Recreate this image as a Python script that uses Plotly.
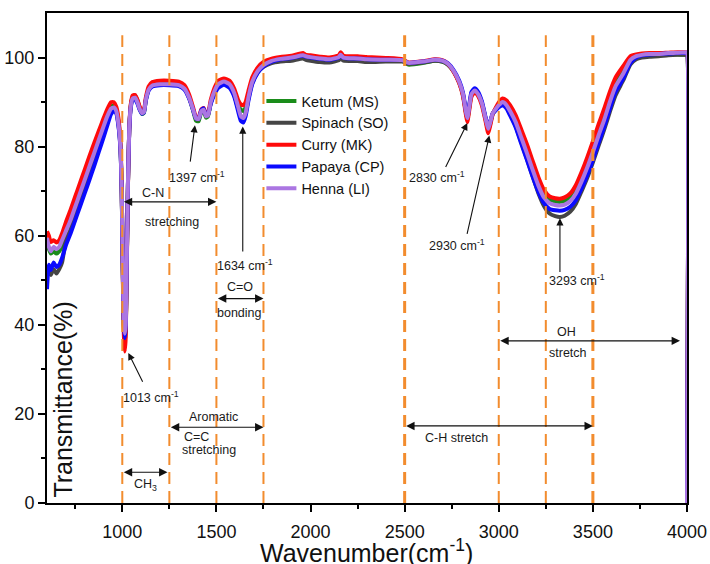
import plotly.graph_objects as go

# ---------------- data ----------------
wavenumber = [600, 610, 620, 635, 650, 665, 680, 700, 725, 750, 775, 800, 825, 850, 875, 900, 920, 940, 955, 968,
              980, 990, 997, 1003, 1008, 1013, 1018, 1024, 1030, 1037, 1045, 1055, 1068, 1080, 1092, 1105, 1115, 1125,
              1140, 1160, 1200, 1250, 1300, 1330, 1355, 1375, 1392, 1405, 1420, 1432, 1445, 1455, 1470, 1490, 1510,
              1540, 1570, 1595, 1615, 1630, 1643, 1655, 1670, 1690, 1720, 1750, 1790, 1840, 1900, 1960, 1975, 2000,
              2050, 2100, 2150, 2160, 2175, 2250, 2300, 2400, 2490, 2520, 2600, 2660, 2700, 2730, 2760, 2790, 2810,
              2825, 2833, 2842, 2855, 2872, 2890, 2910, 2930, 2944, 2955, 2968, 2985, 3000, 3020, 3040, 3060, 3090,
              3120, 3150, 3180, 3210, 3240, 3270, 3300, 3325, 3350, 3380, 3410, 3440, 3470, 3500, 3530, 3560, 3590,
              3620, 3660, 3700, 3730, 3760, 3800, 3850, 3900, 3950, 3998, 4000, 4000]

ketum = [58.5, 57.0, 56.0, 56.5, 56.0, 56.5, 58.0, 61.8, 64.3, 67.3, 70.3, 73.3, 76.3, 79.3, 82.2, 85.1, 87.3, 89.0, 89.3, 88.4,
         85.5, 80.3, 70.0, 51.0, 39.5, 36.0, 38.5, 54.0, 71.5, 84.0, 89.0, 90.9, 91.1, 90.1, 88.5, 87.3, 87.6, 90.4,
         92.8, 93.8, 94.1, 94.1, 93.9, 93.0, 91.0, 88.3, 85.8, 85.7, 87.8, 88.1, 86.5, 86.8, 89.9, 92.4, 93.9,
         94.5, 93.9, 92.0, 89.3, 88.3, 88.0, 88.8, 91.5, 94.7, 97.1, 98.4, 99.2, 99.6, 99.9, 100.4, 100.2, 100.0,
         99.7, 99.5, 100.0, 100.5, 99.9, 99.7, 99.5, 99.4, 99.2, 98.4, 98.8, 99.3, 99.1, 98.4, 96.9, 94.4, 91.6,
         87.8, 86.1, 88.3, 91.6, 92.5, 91.7, 89.7, 86.1, 83.6, 85.2, 87.4, 88.6, 89.5, 90.3, 89.8, 88.5, 86.1,
         82.7, 79.3, 75.6, 72.1, 69.4, 68.1, 67.7, 67.6, 67.8, 68.6, 70.3, 73.0, 76.1, 79.6, 83.3, 86.8, 90.8,
         94.2, 96.9, 99.8, 100.3, 100.5, 100.6, 100.6, 100.7, 100.7, 100.6, 100.6, 0]

spinach = [51.5, 52.0, 51.2, 52.5, 51.5, 52.5, 54.0, 59.0, 61.5, 64.8, 67.8, 70.8, 73.9, 77.0, 80.2, 83.3, 85.9, 88.0, 88.6, 87.8,
           84.8, 79.8, 69.5, 51.0, 40.0, 36.5, 39.0, 54.0, 71.5, 84.0, 89.2, 91.2, 91.5, 90.4, 88.8, 87.6, 87.9, 90.6,
           92.9, 93.8, 94.0, 94.0, 93.8, 93.0, 91.0, 88.5, 86.2, 86.1, 88.0, 88.4, 86.8, 87.0, 89.8, 92.2, 93.6,
           94.2, 93.6, 91.5, 88.6, 86.8, 86.5, 87.5, 90.8, 94.2, 96.7, 97.9, 98.7, 99.1, 99.3, 99.8, 99.5, 99.3,
           99.0, 98.9, 99.4, 99.8, 99.3, 99.2, 99.0, 99.1, 99.1, 98.6, 98.9, 99.3, 99.1, 98.4, 96.9, 94.4, 91.7,
           87.9, 86.2, 88.5, 91.9, 92.7, 91.9, 89.9, 86.4, 84.0, 85.5, 87.4, 88.3, 89.0, 89.6, 88.9, 87.3, 84.6,
           80.9, 77.2, 73.3, 69.6, 66.7, 65.0, 64.4, 64.2, 64.5, 65.4, 67.2, 70.0, 73.0, 76.5, 80.2, 83.8, 87.8,
           91.5, 94.8, 98.5, 99.6, 100.0, 100.2, 100.3, 100.5, 100.6, 100.6, 100.6, 0]

curry = [61.0, 60.0, 58.6, 59.0, 58.5, 59.0, 60.5, 63.0, 65.8, 68.8, 71.8, 74.8, 77.8, 80.7, 83.5, 86.3, 88.4, 90.0, 90.0, 89.0,
         86.3, 81.0, 70.5, 50.0, 38.0, 34.0, 37.0, 53.0, 71.0, 84.0, 89.5, 91.5, 91.6, 90.6, 89.0, 87.8, 88.2, 91.0,
         93.5, 94.5, 94.8, 94.8, 94.6, 93.8, 91.7, 89.0, 86.6, 86.5, 88.4, 88.7, 87.2, 87.4, 90.5, 93.2, 94.8,
         95.3, 94.8, 93.0, 90.5, 89.5, 89.3, 90.0, 92.5, 95.5, 97.8, 99.0, 99.7, 100.1, 100.4, 101.0, 100.6, 100.5,
         100.2, 100.0, 100.5, 101.2, 100.4, 100.3, 100.1, 99.9, 99.6, 98.9, 99.2, 99.6, 99.4, 98.6, 96.8, 94.2, 91.3,
         87.3, 85.5, 87.8, 91.2, 92.2, 91.4, 89.3, 85.7, 83.0, 84.8, 87.3, 88.8, 89.9, 90.8, 90.4, 89.3, 87.0,
         83.8, 80.5, 76.8, 73.2, 70.3, 68.8, 68.4, 68.3, 68.6, 69.5, 71.4, 74.3, 77.6, 81.2, 85.0, 88.5, 92.3,
         95.5, 98.0, 100.3, 100.7, 100.9, 101.0, 101.0, 101.1, 101.2, 101.2, 101.2, 0]

papaya = [48.0, 53.5, 52.3, 54.0, 53.0, 53.5, 55.0, 57.8, 60.5, 63.5, 66.5, 69.5, 72.5, 75.6, 78.8, 82.0, 84.7, 87.3, 88.0, 87.5,
          84.5, 79.5, 69.5, 51.5, 40.5, 37.0, 39.5, 54.5, 71.5, 83.5, 88.7, 90.5, 90.6, 89.7, 88.3, 87.4, 87.7, 90.3,
          92.6, 93.5, 93.8, 93.8, 93.6, 92.8, 90.8, 88.4, 86.3, 86.2, 88.2, 88.6, 87.0, 87.1, 89.6, 91.8, 93.2,
          93.9, 93.2, 91.2, 88.0, 85.8, 85.4, 86.8, 90.3, 94.0, 96.6, 98.0, 99.0, 99.6, 99.9, 100.4, 100.2, 100.0,
          99.7, 99.5, 100.0, 100.5, 99.9, 99.8, 99.6, 99.5, 99.4, 98.8, 99.1, 99.5, 99.3, 98.7, 97.2, 94.8, 92.1,
          88.3, 86.6, 89.0, 92.3, 93.1, 92.3, 90.2, 86.6, 84.3, 85.7, 87.5, 88.2, 88.8, 89.3, 88.6, 87.0, 84.3,
          80.6, 77.0, 73.3, 69.9, 67.3, 66.0, 65.7, 65.6, 65.8, 66.5, 68.0, 70.6, 73.6, 77.0, 80.8, 84.4, 88.5,
          92.2, 95.2, 98.8, 100.0, 100.5, 100.7, 100.8, 100.9, 101.0, 101.0, 101.0, 0]

henna = [59.5, 57.5, 56.5, 57.5, 57.0, 57.5, 59.0, 61.0, 63.5, 66.5, 69.5, 72.5, 75.5, 78.5, 81.5, 84.5, 86.8, 88.5, 88.8, 88.0,
         85.0, 80.0, 70.0, 52.0, 41.0, 38.0, 40.0, 55.0, 72.0, 84.0, 89.0, 90.8, 91.0, 90.0, 88.5, 87.5, 87.8, 90.5,
         92.8, 93.7, 94.0, 94.0, 93.8, 93.0, 91.0, 88.5, 86.3, 86.2, 88.0, 88.3, 86.8, 87.0, 90.0, 92.5, 94.0,
         94.6, 94.0, 92.0, 89.0, 86.8, 86.4, 87.5, 91.0, 94.5, 97.0, 98.3, 99.2, 99.7, 100.0, 100.5, 100.3, 100.1,
         99.8, 99.6, 100.1, 100.6, 100.0, 99.8, 99.6, 99.5, 99.4, 98.8, 99.1, 99.5, 99.3, 98.6, 97.0, 94.5, 91.8,
         88.0, 86.4, 88.5, 91.8, 92.6, 91.8, 89.8, 86.3, 84.0, 85.5, 87.5, 88.5, 89.3, 90.0, 89.4, 88.0, 85.5,
         82.0, 78.5, 74.8, 71.3, 68.6, 67.3, 66.9, 66.8, 67.0, 67.8, 69.5, 72.2, 75.3, 78.8, 82.5, 86.0, 90.0,
         93.5, 96.3, 99.5, 100.3, 100.6, 100.8, 100.8, 101.0, 101.1, 101.2, 101.2, 0]

series_names = ["Ketum (MS)", "Spinach (SO)", "Curry (MK)", "Papaya (CP)", "Henna (LI)"]
series_values = [ketum, spinach, curry, papaya, henna]
series_colors = ["#1a8c1a", "#454545", "#ff0a0a", "#0a0aff", "#ab76e2"]

band_edges = [1000, 1250, 1500, 1750, 2500, 3000, 3250, 3500]
band_widths = [2, 2, 2, 2, 3, 2, 2, 3]

x_ticks = [1000, 1500, 2000, 2500, 3000, 3500, 4000]
x_minor = [750, 1250, 1750, 2250, 2750, 3250, 3750]
y_ticks = [0, 20, 40, 60, 80, 100]
y_minor = [10, 30, 50, 70, 90]

# peak labels: (text, tip x, tip y, tail x, tail y, text x, text y)
peak_labels = [
    ("1013 cm<sup>-1</sup>", 1032, 33.7, 1112, 26.9, 1155, 23.9),
    ("1397 cm<sup>-1</sup>", 1386, 84.8, 1360, 76.3, 1395, 73.2),
    ("1634 cm<sup>-1</sup>", 1640, 84.5, 1640, 56.1, 1652, 53.4),
    ("2830 cm<sup>-1</sup>", 2833, 85.3, 2714, 75.1, 2670, 73.2),
    ("2930 cm<sup>-1</sup>", 2950, 82.5, 2830, 60.1, 2777, 57.9),
    ("3293 cm<sup>-1</sup>", 3325, 63.9, 3325, 51.5, 3414, 50.0),
]

# band ranges: (start, end, y, [(text, x, y), ...])
band_ranges = [
    (1000, 1500, 67.6, [("C-N", 1163, 69.6), ("stretching", 1262, 63.1)]),
    (1500, 1750, 45.9, [("C=O", 1625, 48.4), ("bonding", 1625, 42.7)]),
    (1250, 1750, 17.0, [("Aromatic", 1483, 19.4), ("C=C", 1395, 14.9), ("stretching", 1462, 11.8)]),
    (1000, 1240, 6.9, [("CH<sub>3</sub>", 1121, 4.0)]),
    (2500, 3500, 17.3, [("C-H stretch", 2776, 14.6)]),
    (3000, 3963, 36.4, [("OH", 3361, 38.5), ("stretch", 3369, 33.6)]),
]

# ---------------- figure ----------------
fig = go.Figure()
for name, vals, col in zip(series_names, series_values, series_colors):
    fig.add_trace(go.Scatter(x=wavenumber, y=vals, mode="lines", name=name,
                             line=dict(color=col, width=4, shape="spline", smoothing=0.5)))

for xe, w in zip(band_edges, band_widths):
    fig.add_shape(type="line", x0=xe, x1=xe, y0=0, y1=105, xref="x", yref="y",
                  line=dict(color="#f28c2e", width=w, dash="12px,7px"), layer="above")

ann_font = dict(family="Arial", size=12.5, color="#1a1a1a")
annotations = []
for txt, tx, ty, ax_, ay_, lx, ly in peak_labels:
    annotations.append(dict(x=tx, y=ty, ax=ax_, ay=ay_, xref="x", yref="y", axref="x", ayref="y",
                            text="", showarrow=True, arrowhead=2, arrowsize=1.3, arrowwidth=1.1,
                            arrowcolor="#111111"))
    annotations.append(dict(x=lx, y=ly, xref="x", yref="y", text=txt, showarrow=False, font=ann_font))

for x0, x1, yb, texts in band_ranges:
    annotations.append(dict(x=x1, y=yb, ax=x0, ay=yb, xref="x", yref="y", axref="x", ayref="y",
                            text="", showarrow=True, arrowhead=2, startarrowhead=2, arrowside="end+start",
                            arrowsize=1.4, startarrowsize=1.4, arrowwidth=1.2, arrowcolor="#111111"))
    for txt, lx, ly in texts:
        annotations.append(dict(x=lx, y=ly, xref="x", yref="y", text=txt, showarrow=False, font=ann_font))

annotations.append(dict(x=0.025, y=0.211, xref="paper", yref="paper", text="Transmittance(%)",
                        textangle=-90, showarrow=False, xanchor="center", yanchor="middle",
                        font=dict(family="Arial", size=25, color="#111111")))
annotations.append(dict(x=0.499, y=-0.097, xref="paper", yref="paper", text="Wavenumber(cm<sup>-1</sup>)",
                        showarrow=False, xanchor="center", yanchor="middle",
                        font=dict(family="Arial", size=25, color="#111111")))

axis_common = dict(showline=True, linecolor="black", linewidth=2, mirror=True, showgrid=False, zeroline=False,
                   ticks="outside", ticklen=7, tickwidth=1.5, tickcolor="black", automargin=False,
                   tickfont=dict(family="Arial", size=18, color="#111111"))

fig.update_layout(
    width=710, height=564,
    margin=dict(l=47, r=23, t=13, b=61, autoexpand=False),
    paper_bgcolor="white", plot_bgcolor="white",
    xaxis=dict(range=[600, 4000], tickvals=x_ticks, ticklabelstandoff=4,
               minor=dict(tickvals=x_minor, ticks="outside", ticklen=4, tickwidth=1.5, tickcolor="black"),
               **axis_common),
    yaxis=dict(range=[0, 110], tickvals=y_ticks,
               minor=dict(tickvals=y_minor, ticks="outside", ticklen=4, tickwidth=1.5, tickcolor="black"),
               **axis_common),
    legend=dict(x=0.335, y=0.853, xanchor="left", yanchor="top", bgcolor="rgba(0,0,0,0)",
                font=dict(family="Arial", size=14.5, color="#111111"), tracegroupgap=0),
    annotations=annotations,
    showlegend=True,
)

fig.write_html("out.html")
